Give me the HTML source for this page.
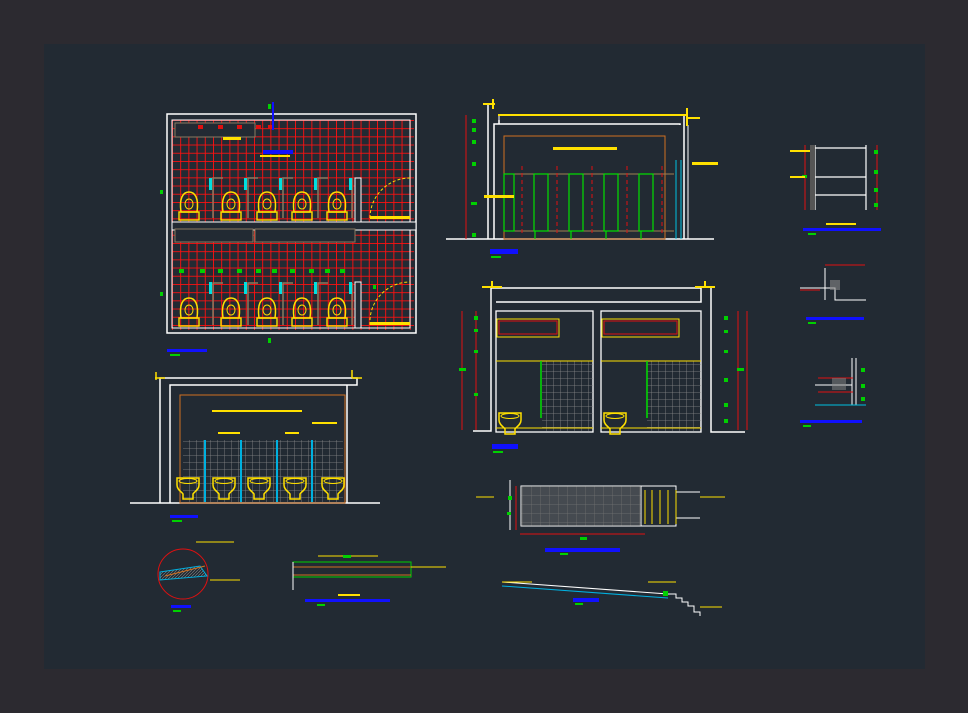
<!DOCTYPE html>
<html><head><meta charset="utf-8"><style>
html,body{margin:0;padding:0;background:#2c2a30;}
svg{display:block}
</style></head><body>
<svg width="968" height="713" viewBox="0 0 968 713" xmlns="http://www.w3.org/2000/svg" font-family="Liberation Sans, sans-serif">
<defs>
<pattern id="rg" x="172" y="120" width="8.2" height="8.2" patternUnits="userSpaceOnUse"><path d="M0 0H8.2M0 0V8.2" stroke="#ff1010" stroke-width="1.8" fill="none"/></pattern>
<pattern id="gg" x="0" y="0" width="7" height="7" patternUnits="userSpaceOnUse"><path d="M0 0H7M0 0V7" stroke="#8a8a8a" stroke-width="0.8" fill="none"/></pattern>
<pattern id="gg2" x="0" y="0" width="9" height="9" patternUnits="userSpaceOnUse"><path d="M0 0H9M0 0V9" stroke="#6a6a6a" stroke-width="0.7" fill="none"/></pattern>
<pattern id="hat" x="0" y="0" width="3" height="3" patternUnits="userSpaceOnUse"><path d="M0 3L3 0" stroke="#888" stroke-width="0.6"/></pattern>
<g id="wc"><path d="M-8 0 C-10 -14,-6 -20,0 -20 C6 -20,10 -14,8 0Z" fill="none" stroke="#ffe000" stroke-width="1.5"/><ellipse cx="0" cy="-8" rx="4" ry="5" fill="none" stroke="#ffe000"/><rect x="-10" y="0" width="20" height="8" fill="none" stroke="#ffe000" stroke-width="1.4"/></g>
<g id="wce"><path d="M-11 0 H11 V7 C11 12,6 14,5 16 V21 H-5 V16 C-6 14,-11 12,-11 7Z" fill="none" stroke="#ffe000" stroke-width="1.5"/><ellipse cx="0" cy="3" rx="9" ry="2.5" fill="none" stroke="#ffe000"/></g>
</defs>
<rect x="0" y="0" width="968" height="713" fill="#2c2a30"/>
<rect x="44" y="44" width="881" height="625" fill="#222a33"/>

<rect x="172" y="120" width="242" height="210" fill="url(#rg)"/>
<rect x="167" y="114" width="249" height="219" fill="none" stroke="#fff" stroke-width="1.5"/>
<rect x="172" y="120" width="238" height="208" fill="none" stroke="#fff" stroke-width="1"/>
<rect x="175" y="123" width="80" height="14" fill="#222a33" stroke="#8a7a60"/>
<rect x="172" y="222" width="244" height="8" fill="#222a33" stroke="#fff"/>
<rect x="255" y="229" width="100" height="13" fill="#222a33" stroke="#8a7a60"/>
<rect x="175" y="229" width="78" height="13" fill="#222a33" stroke="#8a7a60"/>
<g stroke="#8a7a60" stroke-width="1.5" fill="none">
<path d="M213 218V178h10M248 218V178h10M283 218V178h10M318 218V178h10M352 218V178"/>
<path d="M213 325V283h10M248 325V283h10M283 325V283h10M318 325V283h10M352 325V283"/>
</g>
<g fill="#00e0e0"><rect x="209" y="178" width="3" height="12"/><rect x="244" y="178" width="3" height="12"/><rect x="279" y="178" width="3" height="12"/><rect x="314" y="178" width="3" height="12"/><rect x="349" y="178" width="3" height="12"/>
<rect x="209" y="282" width="3" height="12"/><rect x="244" y="282" width="3" height="12"/><rect x="279" y="282" width="3" height="12"/><rect x="314" y="282" width="3" height="12"/><rect x="349" y="282" width="3" height="12"/></g>
<rect x="355" y="178" width="6" height="44" fill="#222a33" stroke="#fff"/>
<rect x="355" y="282" width="6" height="46" fill="#222a33" stroke="#fff"/>
<g><use href="#wc" x="189" y="212"/><use href="#wc" x="231" y="212"/><use href="#wc" x="267" y="212"/><use href="#wc" x="302" y="212"/><use href="#wc" x="337" y="212"/>
<use href="#wc" x="189" y="318"/><use href="#wc" x="231" y="318"/><use href="#wc" x="267" y="318"/><use href="#wc" x="302" y="318"/><use href="#wc" x="337" y="318"/></g>
<path d="M370 218 A40 40 0 0 1 410 178" fill="none" stroke="#ffe000" stroke-dasharray="3 2"/>
<path d="M370 325 A40 40 0 0 1 410 282" fill="none" stroke="#ffe000" stroke-dasharray="3 2"/>
<rect x="370" y="216" width="40" height="3" fill="#ffe000"/><rect x="370" y="322" width="40" height="3" fill="#ffe000"/>
<rect x="263" y="150" width="30" height="4" fill="#1010ff"/><rect x="260" y="155" width="30" height="2" fill="#ffe000"/>
<rect x="223" y="137" width="18" height="3" fill="#ffe000"/>
<g fill="#e01010"><rect x="198" y="125" width="5" height="4"/><rect x="218" y="125" width="5" height="4"/><rect x="237" y="125" width="5" height="4"/><rect x="256" y="125" width="5" height="4"/><rect x="268" y="125" width="5" height="4"/></g>
<g fill="#00d000"><rect x="179" y="269" width="5" height="4"/><rect x="200" y="269" width="5" height="4"/><rect x="218" y="269" width="5" height="4"/><rect x="237" y="269" width="5" height="4"/><rect x="256" y="269" width="5" height="4"/><rect x="272" y="269" width="5" height="4"/><rect x="290" y="269" width="5" height="4"/><rect x="309" y="269" width="5" height="4"/><rect x="325" y="269" width="5" height="4"/><rect x="340" y="269" width="5" height="4"/>
<rect x="268" y="104" width="3" height="5"/><rect x="268" y="338" width="3" height="5"/><rect x="160" y="190" width="3" height="4"/><rect x="160" y="292" width="3" height="4"/><rect x="373" y="285" width="3" height="4"/></g>
<rect x="272" y="102" width="2" height="28" fill="#1010ff"/>
<rect x="167" y="349" width="40" height="3" fill="#1010ff"/><rect x="170" y="354" width="10" height="2" fill="#00d000"/>

<rect x="183" y="440" width="160" height="62" fill="url(#gg)"/>
<path d="M130 503H380" stroke="#fff" stroke-width="1.5"/>
<path d="M160 503V378H357V385H170V503" fill="none" stroke="#fff" stroke-width="1.5"/>
<path d="M347 385V503" stroke="#fff" stroke-width="1.5"/>
<path d="M155 378h10M156 372v8M352 378h10M352 370v8" stroke="#ffe000" stroke-width="1.5"/>
<rect x="180" y="395" width="165" height="108" fill="none" stroke="#d07020"/>
<g fill="#00b0e0"><rect x="204" y="440" width="2" height="62"/><rect x="240" y="440" width="2" height="62"/><rect x="276" y="440" width="2" height="62"/><rect x="311" y="440" width="2" height="62"/></g>
<g><use href="#wce" x="188" y="478"/><use href="#wce" x="224" y="478"/><use href="#wce" x="259" y="478"/><use href="#wce" x="295" y="478"/><use href="#wce" x="333" y="478"/></g>
<rect x="212" y="410" width="90" height="2" fill="#ffe000"/><rect x="218" y="432" width="22" height="2" fill="#ffe000"/><rect x="285" y="432" width="14" height="2" fill="#ffe000"/><rect x="312" y="422" width="25" height="2" fill="#ffe000"/>
<rect x="170" y="515" width="28" height="3" fill="#1010ff"/><rect x="172" y="520" width="10" height="2" fill="#00d000"/>

<circle cx="183" cy="574" r="25" fill="none" stroke="#e01010"/>
<path d="M160 572L200 566L207 576L160 580Z" fill="url(#hat)" stroke="#00b0e0"/>
<path d="M165 576L205 566" stroke="#d07020"/>
<path d="M196 542h38M210 580h30" stroke="#ffe000"/>
<rect x="171" y="605" width="20" height="3" fill="#1010ff"/><rect x="173" y="610" width="8" height="2" fill="#00d000"/>

<rect x="293" y="562" width="118" height="15" fill="none" stroke="#00d000"/>
<path d="M293 567H411M293 575H411" stroke="#d07020"/>
<path d="M293 562V590" stroke="#fff"/>
<path d="M318 556h60M411 567h35" stroke="#ffe000"/>
<rect x="343" y="555" width="8" height="3" fill="#00d000"/>
<rect x="305" y="599" width="85" height="3" fill="#1010ff"/><rect x="338" y="594" width="22" height="2" fill="#ffe000"/><rect x="317" y="604" width="8" height="2" fill="#00d000"/>

<path d="M446 239H714" stroke="#fff" stroke-width="1.5"/>
<path d="M488 239V104M494 239V124H499V124H680V125M499 124V120M499 115H684V239" fill="none" stroke="#fff" stroke-width="1.5"/>
<path d="M499 115V124M688 125V239" stroke="#fff"/>
<path d="M498 115H688" stroke="#ffe000" stroke-width="2"/>
<path d="M483 104h12M493 99v10M686 118h14M687 108v18" stroke="#ffe000" stroke-width="2"/>
<rect x="504" y="136" width="161" height="103" fill="none" stroke="#d07020"/>
<path d="M504 174H674M504 231H674" stroke="#a08050"/>
<g stroke="#00e000" stroke-width="1.2" fill="none"><rect x="504" y="174" width="10" height="57"/><rect x="534" y="174" width="14" height="57"/><rect x="569" y="174" width="14" height="57"/><rect x="604" y="174" width="14" height="57"/><rect x="639" y="174" width="14" height="57"/><path d="M535 231v8M571 231v8M606 231v8M641 231v8"/></g>
<g stroke="#e01010" stroke-dasharray="4 3" fill="none"><path d="M522 166V236M557 166V236M592 166V236M627 166V236M662 166V236"/></g>
<path d="M676 160V239M681 160V239" stroke="#00c0e0"/>
<rect x="553" y="147" width="64" height="3" fill="#ffe000"/>
<path d="M466 115V239" stroke="#e01010"/>
<g fill="#00d000"><rect x="472" y="119" width="4" height="4"/><rect x="472" y="128" width="4" height="4"/><rect x="472" y="140" width="4" height="4"/><rect x="472" y="162" width="4" height="4"/><rect x="471" y="202" width="6" height="3"/><rect x="472" y="233" width="4" height="4"/></g>
<rect x="484" y="195" width="30" height="3" fill="#ffe000"/>
<rect x="692" y="162" width="26" height="3" fill="#ffe000"/>
<rect x="490" y="249" width="28" height="5" fill="#1010ff"/><rect x="491" y="256" width="10" height="2" fill="#00d000"/>

<path d="M473 431H491V288H701V302H496" fill="none" stroke="#fff" stroke-width="1.5"/>
<path d="M711 288V432H745" fill="none" stroke="#fff" stroke-width="1.5"/>
<path d="M482 287h20M492 281v6M695 287h20M705 281v6" stroke="#ffe000" stroke-width="2"/>
<rect x="496" y="311" width="97" height="121" fill="none" stroke="#fff" stroke-width="1.3"/>
<rect x="601" y="311" width="100" height="121" fill="none" stroke="#fff" stroke-width="1.3"/>
<rect x="542" y="361" width="51" height="70" fill="url(#gg)"/>
<rect x="647" y="361" width="54" height="70" fill="url(#gg)"/>
<rect x="497" y="319" width="62" height="18" fill="none" stroke="#ffe000"/><rect x="499" y="321" width="58" height="13" fill="none" stroke="#e01010"/>
<rect x="602" y="319" width="77" height="18" fill="none" stroke="#ffe000"/><rect x="604" y="321" width="73" height="13" fill="none" stroke="#e01010"/>
<path d="M496 361H593M601 361H701" stroke="#ffe000"/>
<path d="M541 361V418M647 361V418" stroke="#00e000" stroke-width="1.5"/>
<use href="#wce" x="510" y="413"/><use href="#wce" x="615" y="413"/>
<path d="M496 428H593M601 428H701" stroke="#ffe000"/>
<path d="M462 311V430M476 311V430M738 311V430M747 311V430" stroke="#e01010"/>
<g fill="#00d000"><rect x="474" y="316" width="4" height="4"/><rect x="474" y="329" width="4" height="3"/><rect x="474" y="350" width="4" height="3"/><rect x="459" y="368" width="7" height="3"/><rect x="474" y="393" width="4" height="3"/>
<rect x="724" y="316" width="4" height="4"/><rect x="724" y="330" width="4" height="3"/><rect x="724" y="350" width="4" height="3"/><rect x="737" y="368" width="7" height="3"/><rect x="724" y="378" width="4" height="4"/><rect x="724" y="403" width="4" height="4"/><rect x="724" y="419" width="4" height="4"/></g>
<rect x="492" y="444" width="26" height="5" fill="#1010ff"/><rect x="493" y="451" width="10" height="2" fill="#00d000"/>

<rect x="521" y="486" width="120" height="40" fill="url(#gg2)" stroke="#fff"/>
<rect x="521" y="486" width="120" height="40" fill="#888" opacity="0.35"/>
<path d="M510 480V530M641 486H676V526H641M676 492H700M676 518H700" fill="none" stroke="#fff"/>
<path d="M516 486V530M520 534H645" stroke="#e01010"/>
<g stroke="#ffe000"><path d="M645 490V524M652 490V524M660 490V524M668 490V524M676 490V524"/><path d="M476 497h18M700 497h25"/></g>
<rect x="508" y="496" width="4" height="4" fill="#00d000"/><rect x="580" y="537" width="7" height="3" fill="#00d000"/><rect x="507" y="512" width="4" height="3" fill="#00d000"/>
<rect x="545" y="548" width="75" height="4" fill="#1010ff"/><rect x="560" y="553" width="8" height="2" fill="#00d000"/>

<path d="M502 582L668 594H676V598H682V602H688V606H694V612H700V616" fill="none" stroke="#fff"/>
<path d="M502 586L668 598" stroke="#00b0e0"/>
<path d="M502 582h30M648 582h28M700 607h22" stroke="#ffe000"/>
<rect x="663" y="591" width="5" height="5" fill="#00d000"/>
<rect x="573" y="598" width="26" height="4" fill="#1010ff"/><rect x="575" y="603" width="8" height="2" fill="#00d000"/>

<path d="M815 145V210M866 145V210M813 148H866M813 177H866M813 195H866" fill="none" stroke="#fff" stroke-width="1.2"/>
<path d="M877 145V210M805 145V210" stroke="#e01010"/>
<rect x="810" y="145" width="5" height="65" fill="#555"/>
<g fill="#00d000"><rect x="874" y="150" width="4" height="4"/><rect x="874" y="170" width="4" height="4"/><rect x="874" y="188" width="4" height="4"/><rect x="874" y="203" width="4" height="4"/><rect x="802" y="175" width="5" height="3"/></g>
<rect x="790" y="150" width="20" height="2" fill="#ffe000"/><rect x="790" y="176" width="15" height="2" fill="#ffe000"/>
<rect x="803" y="228" width="78" height="3" fill="#1010ff"/><rect x="826" y="223" width="30" height="2" fill="#ffe000"/><rect x="808" y="233" width="8" height="2" fill="#00d000"/>
<path d="M800 288H835V300H866M825 268V300" fill="none" stroke="#fff"/>
<path d="M825 265h40M800 290h20" stroke="#e01010"/>
<rect x="830" y="280" width="10" height="10" fill="#888" opacity="0.6"/>
<rect x="806" y="317" width="58" height="3" fill="#1010ff"/><rect x="808" y="322" width="8" height="2" fill="#00d000"/>
<path d="M852 358V405M856 358V405M815 385H852" fill="none" stroke="#fff"/>
<path d="M818 378h35M818 392h35" stroke="#e01010"/>
<path d="M815 405H866" stroke="#00c0e0"/>
<rect x="832" y="378" width="14" height="12" fill="#888" opacity="0.5"/>
<g fill="#00d000"><rect x="861" y="368" width="4" height="4"/><rect x="861" y="384" width="4" height="4"/><rect x="861" y="397" width="4" height="4"/></g>
<rect x="800" y="420" width="62" height="3" fill="#1010ff"/><rect x="803" y="425" width="8" height="2" fill="#00d000"/>
</svg>
</body></html>
